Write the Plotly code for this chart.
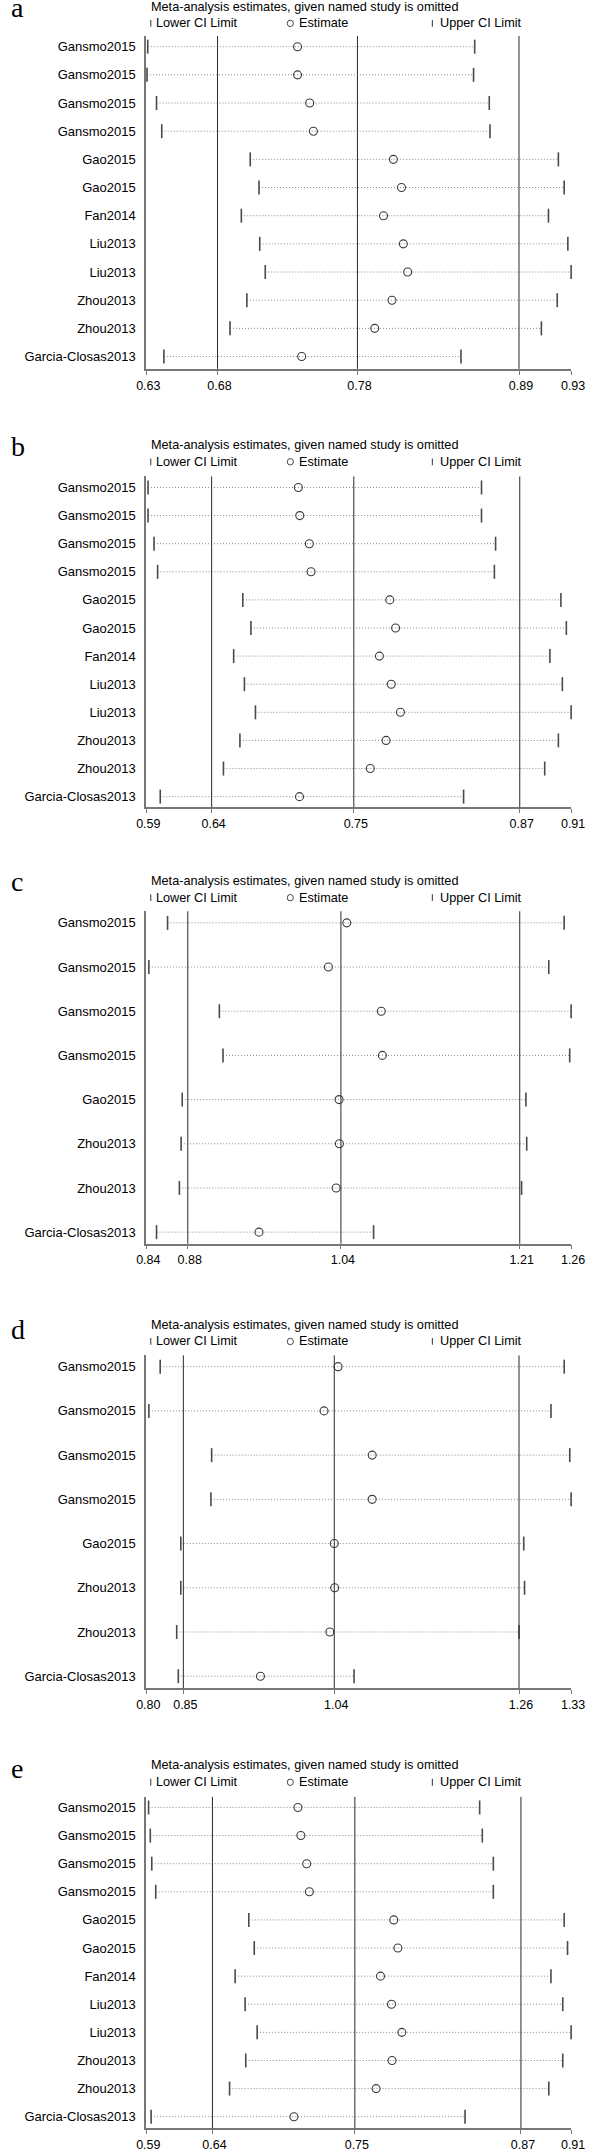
import plotly.graph_objects as go

# ---------------- data ----------------
studies_12 = ["Gansmo2015", "Gansmo2015", "Gansmo2015", "Gansmo2015", "Gao2015", "Gao2015",
              "Fan2014", "Liu2013", "Liu2013", "Zhou2013", "Zhou2013", "Garcia-Closas2013"]
studies_8 = ["Gansmo2015", "Gansmo2015", "Gansmo2015", "Gansmo2015", "Gao2015",
             "Zhou2013", "Zhou2013", "Garcia-Closas2013"]

# panel a
a_lower = [0.6310, 0.6305, 0.6372, 0.6409, 0.7034, 0.7096, 0.6971, 0.7101, 0.7140, 0.7010, 0.6891, 0.6424]
a_est = [0.7368, 0.7368, 0.7454, 0.7480, 0.8045, 0.8102, 0.7975, 0.8115, 0.8146, 0.8035, 0.7913, 0.7397]
a_upper = [0.8619, 0.8611, 0.8722, 0.8727, 0.9210, 0.9251, 0.9140, 0.9277, 0.9300, 0.9202, 0.9090, 0.8522]
a_ticks = [0.63, 0.6803, 0.7791, 0.8932, 0.93]
a_ticktext = ["0.63", "0.68", "0.78", "0.89", "0.93"]

# panel b
b_lower = [0.5913, 0.5913, 0.5958, 0.5985, 0.6627, 0.6688, 0.6558, 0.6639, 0.6722, 0.6605, 0.6481, 0.6005]
b_est = [0.7045, 0.7056, 0.7128, 0.7141, 0.7734, 0.7778, 0.7656, 0.7745, 0.7814, 0.7706, 0.7587, 0.7054]
b_upper = [0.8425, 0.8425, 0.8531, 0.8522, 0.9023, 0.9064, 0.8940, 0.9034, 0.9100, 0.9004, 0.8901, 0.8290]
b_ticks = [0.59, 0.6392, 0.7463, 0.8713, 0.91]
b_ticktext = ["0.59", "0.64", "0.75", "0.87", "0.91"]

# panel c
c_lower = [0.8610, 0.8425, 0.9122, 0.9158, 0.8755, 0.8744, 0.8727, 0.8501]
c_est = [1.0382, 1.0200, 1.0723, 1.0734, 1.0306, 1.0309, 1.0277, 0.9514]
c_upper = [1.2531, 1.2379, 1.2600, 1.2586, 1.2153, 1.2161, 1.2110, 1.0647]
c_ticks = [0.84, 0.8810, 1.0324, 1.2092, 1.26]
c_ticktext = ["0.84", "0.88", "1.04", "1.21", "1.26"]

# panel d
d_lower = [0.8173, 0.8032, 0.8815, 0.8806, 0.8430, 0.8430, 0.8379, 0.8399]
d_est = [1.0392, 1.0217, 1.0818, 1.0818, 1.0345, 1.0350, 1.0290, 0.9424]
d_upper = [1.3214, 1.3049, 1.3283, 1.3300, 1.2709, 1.2719, 1.2650, 1.0592]
d_ticks = [0.80, 0.8462, 1.0345, 1.2650, 1.33]
d_ticktext = ["0.80", "0.85", "1.04", "1.26", "1.33"]

# panel e
e_lower = [0.5917, 0.5930, 0.5941, 0.5971, 0.6672, 0.6713, 0.6569, 0.6644, 0.6735, 0.6649, 0.6527, 0.5936]
e_est = [0.7042, 0.7064, 0.7108, 0.7128, 0.7764, 0.7795, 0.7664, 0.7747, 0.7825, 0.7751, 0.7631, 0.7012]
e_upper = [0.8411, 0.8431, 0.8514, 0.8514, 0.9048, 0.9073, 0.8948, 0.9037, 0.9100, 0.9037, 0.8932, 0.8301]
e_ticks = [0.59, 0.6398, 0.7471, 0.8722, 0.91]
e_ticktext = ["0.59", "0.64", "0.75", "0.87", "0.91"]

panel_letters = ["a", "b", "c", "d", "e"]
title_text = "Meta-analysis estimates, given named study is omitted"
legend_texts = ["Lower CI Limit", "Estimate", "Upper CI Limit"]

# ---------------- layout constants (pixels) ----------------
W, H = 600, 2152
X_LEFT, X_RIGHT = 142.0, 584.5

panels = [
    dict(studies=studies_12, lo=a_lower, est=a_est, up=a_upper, ticks=a_ticks, tt=a_ticktext,
         top=36.0, bot=369.0, r1=46.7, rn=356.7, title=6.6, letter_base=17.5),
    dict(studies=studies_12, lo=b_lower, est=b_est, up=b_upper, ticks=b_ticks, tt=b_ticktext,
         top=476.7, bot=807.7, r1=487.7, rn=797.0, title=445.2, letter_base=456.7),
    dict(studies=studies_8, lo=c_lower, est=c_est, up=c_upper, ticks=c_ticks, tt=c_ticktext,
         top=911.7, bot=1244.3, r1=923.3, rn=1232.7, title=881.3, letter_base=891.7),
    dict(studies=studies_8, lo=d_lower, est=d_est, up=d_upper, ticks=d_ticks, tt=d_ticktext,
         top=1356.0, bot=1689.0, r1=1367.3, rn=1677.0, title=1325.3, letter_base=1340.0),
    dict(studies=studies_12, lo=e_lower, est=e_est, up=e_upper, ticks=e_ticks, tt=e_ticktext,
         top=1797.7, bot=2129.3, r1=1808.3, rn=2117.7, title=1766.3, letter_base=1779.3),
]


def px(x):
    return x / W


def py(y):
    return 1 - y / H


TEXT = "#000000"
SANS = "Liberation Sans, Arial, sans-serif"
SERIF = "Liberation Serif, Times New Roman, serif"

fig = go.Figure()
shapes = []
annotations = []
layout_axes = {}

for k, p in enumerate(panels):
    idx = "" if k == 0 else str(k + 1)
    xa, ya = "x" + idx, "y" + idx
    n = len(p["studies"])
    rows = list(range(1, n + 1))

    # dotted CI lines
    lx, ly = [], []
    for r, lo, up in zip(rows, p["lo"], p["up"]):
        lx += [lo, up, None]
        ly += [r, r, None]
    fig.add_trace(go.Scatter(x=lx, y=ly, mode="lines", xaxis=xa, yaxis=ya, showlegend=False,
                             line=dict(color="#8a8a8a", width=1, dash="1px,2px"), hoverinfo="skip"))
    # lower / upper CI ticks
    for vals in (p["lo"], p["up"]):
        fig.add_trace(go.Scatter(x=vals, y=rows, mode="markers", xaxis=xa, yaxis=ya, showlegend=False,
                                 cliponaxis=False,
                                 marker=dict(symbol="line-ns", size=10,
                                             line=dict(color="#4a4a4a", width=1.6))))
    # estimates
    fig.add_trace(go.Scatter(x=p["est"], y=rows, mode="markers", xaxis=xa, yaxis=ya, showlegend=False,
                             cliponaxis=False,
                             marker=dict(symbol="circle-open", size=8, color="#3a3a3a",
                                         line=dict(color="#3a3a3a", width=1.1))))

    # reference vertical lines (overall lower CI, estimate, upper CI)
    for v in p["ticks"][1:4]:
        shapes.append(dict(type="line", xref=xa, yref=ya + " domain", x0=v, x1=v, y0=0, y1=1,
                           line=dict(color="#2a2a2a", width=1)))

    spacing = (p["rn"] - p["r1"]) / (n - 1)
    y_top = 1 - (p["r1"] - p["top"]) / spacing
    y_bot = n + (p["bot"] - p["rn"]) / spacing

    layout_axes["xaxis" + idx] = dict(
        domain=[px(X_LEFT), px(X_RIGHT)], anchor=ya, range=[p["ticks"][0], p["ticks"][-1]],
        tickmode="array", tickvals=p["ticks"], ticktext=p["tt"], ticks="outside", ticklen=4,
        tickwidth=1, tickcolor="#777777", showline=True, linecolor="#777777", linewidth=1.5,
        showgrid=False, zeroline=False, ticklabelshift=2,
        tickfont=dict(family=SANS, size=12.5, color=TEXT))
    layout_axes["yaxis" + idx] = dict(
        domain=[py(p["bot"]), py(p["top"])], anchor=xa, range=[y_bot, y_top],
        tickmode="array", tickvals=rows, ticktext=p["studies"], ticks="", showline=True,
        linecolor="#777777", linewidth=2, showgrid=False, zeroline=False, ticklabelstandoff=6,
        tickfont=dict(family=SANS, size=13, color=TEXT))

    # panel letter
    annotations.append(dict(text=panel_letters[k], xref="paper", yref="paper", x=px(0),
                            y=py(p["letter_base"] - 9.5), borderpad=0,
                            xanchor="left", yanchor="middle", showarrow=False,
                            font=dict(family=SERIF, size=28, color=TEXT)))
    # title
    annotations.append(dict(text=title_text, xref="paper", yref="paper", x=px(144.4), y=py(p["title"]),
                            xanchor="left", yanchor="middle", showarrow=False,
                            font=dict(family=SANS, size=12.7, color=TEXT)))
    # legend row
    ly_c = p["title"] + 16.8
    for xt, txt in zip((150.4, 298.6, 445.7), legend_texts):
        annotations.append(dict(text=txt, xref="paper", yref="paper", x=px(xt), y=py(ly_c),
                                xanchor="left", yanchor="middle", showarrow=False,
                                font=dict(family=SANS, size=12.7, color=TEXT)))
    for xb in (146.6, 440.0):
        shapes.append(dict(type="line", xref="paper", yref="paper", x0=px(xb), x1=px(xb),
                           y0=py(ly_c - 3.4), y1=py(ly_c + 3.4), line=dict(color="#555555", width=1.2)))
    shapes.append(dict(type="circle", xref="paper", yref="paper", x0=px(292 - 3.2), x1=px(292 + 3.2),
                       y0=py(ly_c + 3.2), y1=py(ly_c - 3.2), line=dict(color="#444444", width=1)))

fig.update_layout(
    width=W, height=H, margin=dict(l=0, r=0, t=0, b=0),
    paper_bgcolor="white", plot_bgcolor="white", showlegend=False,
    shapes=shapes, annotations=annotations, **layout_axes)

fig.write_html("out.html", config={"displayModeBar": False},
               post_script="document.body.style.margin='0';document.body.style.overflow='hidden';")
